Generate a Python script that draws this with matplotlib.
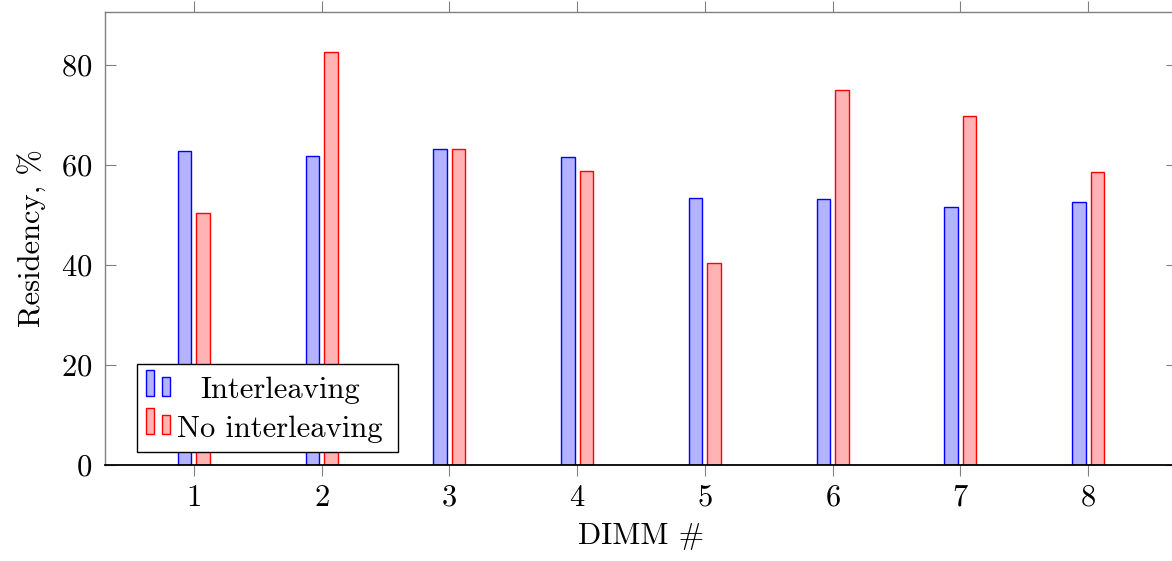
"""Per-DIMM residency with and without memory interleaving."""

import matplotlib

matplotlib.use("Agg")
import matplotlib.pyplot as plt
import matplotlib.transforms as mtransforms
import numpy as np
from matplotlib.patches import Rectangle

dimms = [1, 2, 3, 4, 5, 6, 7, 8]
interleaving = [62.9, 61.9, 63.3, 61.6, 53.4, 53.3, 51.7, 52.7]
no_interleaving = [50.5, 82.6, 63.2, 58.8, 40.4, 75.1, 69.8, 58.7]
series_labels = ["Interleaving", "No interleaving"]

BLUE_FILL, BLUE_EDGE = "#b3b3ff", "#0000ff"
RED_FILL, RED_EDGE = "#ffb3b3", "#ff0000"
AXIS_GRAY = "#808080"

W, H = 1172, 561

plt.rcParams.update(
    {
        "font.family": "cmr10",
        "mathtext.fontset": "cm",
        "axes.formatter.use_mathtext": True,
        "font.size": 22,
    }
)

fig = plt.figure(figsize=(W / 100, H / 100), dpi=100)
# pixel -> figure transform (origin top-left)
pix = mtransforms.Affine2D().scale(1 / W, -1 / H).translate(0, 1) + fig.transFigure

left, right, top, bottom = 105, 1177, 12, 465
ax = fig.add_axes([left / W, 1 - bottom / H, (right - left) / W, (bottom - top) / H])

x = np.array(dimms, dtype=float)
width = 0.105
offset = 0.072
ax.bar(x - offset, interleaving, width, color=BLUE_FILL, edgecolor=BLUE_EDGE,
       linewidth=1.0, zorder=2)
ax.bar(x + offset, no_interleaving, width, color=RED_FILL, edgecolor=RED_EDGE,
       linewidth=1.0, zorder=2)

ax.set_xlim(1 - 89 / 128, 8 + 89 / 128)
ax.set_ylim(0, 90.6)
ax.set_xticks(dimms)
ax.set_yticks([0, 20, 40, 60, 80])

for side in ["left", "top", "right"]:
    ax.spines[side].set_color(AXIS_GRAY)
    ax.spines[side].set_linewidth(1.0)
ax.spines["bottom"].set_color("black")
ax.spines["bottom"].set_linewidth(1.3)
ax.spines["bottom"].set_zorder(3)

# x ticks stick out of the frame, y ticks point in
ax.tick_params(axis="x", direction="out", length=8, width=0.8,
               color=AXIS_GRAY, top=True, pad=6)
ax.tick_params(axis="y", direction="in", length=8, width=0.8,
               color=AXIS_GRAY, right=True, pad=9)

ax.set_xlabel("DIMM #", labelpad=8)
ax.set_ylabel("Residency, %", labelpad=10)

# legend box with pgfplots-style double-bar handles
fig.add_artist(Rectangle((137, 452), 261, -88, transform=pix, facecolor="white",
                         edgecolor="black", linewidth=1.0, zorder=5))
rows = [
    (396, series_labels[0], BLUE_FILL, BLUE_EDGE, 398),
    (434, series_labels[1], RED_FILL, RED_EDGE, 437),
]
for base, label, fill, edge, text_y in rows:
    fig.add_artist(Rectangle((146, base), 8, -26, transform=pix, facecolor=fill,
                             edgecolor=edge, linewidth=1.0, zorder=6))
    fig.add_artist(Rectangle((162, base), 8, -19, transform=pix, facecolor=fill,
                             edgecolor=edge, linewidth=1.0, zorder=6))
    fig.text(280, text_y, label, transform=pix, ha="center", va="baseline",
             zorder=7)

fig.savefig("out.png", dpi=100)
